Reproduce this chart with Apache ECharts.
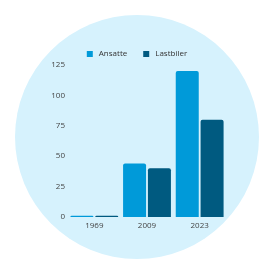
<!DOCTYPE html>
<html><head><meta charset="utf-8">
<script src="https://cdn.jsdelivr.net/npm/echarts@6/dist/echarts.min.js"></script>
<style>html,body{margin:0;padding:0;background:#fff}#c{width:274px;height:274px}</style>
</head><body><div id="c"></div>
<script>
const categories = ['1969', '2009', '2023'];
const ansatte = [1, 44, 120];
const lastbiler = [1, 40, 80];
const yTicks = [0, 25, 50, 75, 100, 125];

const chart = echarts.init(document.getElementById('c'), null, {renderer: 'canvas'});
chart.setOption({
  animation: false,
  graphic: [{type: 'circle', shape: {cx: 137, cy: 137, r: 122}, style: {fill: '#d6f2fd'}, z: -10, silent: true}],
  legend: {
    top: 45, left: 'center', itemWidth: 6, itemHeight: 6, itemGap: 16,
    icon: 'rect',
    textStyle: {fontFamily: 'Open Sans', fontSize: 8, color: '#333', padding: [0, 0, 0, 1]},
    data: ['Ansatte', 'Lastbiler']
  },
  grid: {left: 68, right: 48, top: 65, bottom: 57},
  xAxis: {
    type: 'category', data: categories,
    axisLine: {show: false}, axisTick: {show: false},
    axisLabel: {fontFamily: 'Open Sans', fontSize: 8, color: '#444', margin: 5}
  },
  yAxis: {
    type: 'value', min: yTicks[0], max: yTicks[yTicks.length - 1], interval: 25,
    splitLine: {show: false}, axisLine: {show: false}, axisTick: {show: false},
    axisLabel: {fontFamily: 'Open Sans', fontSize: 8, color: '#444', margin: 3}
  },
  series: [
    {name: 'Ansatte', type: 'bar', data: ansatte, barWidth: 23, barGap: '8%',
     itemStyle: {color: '#009ad9', borderRadius: [2, 2, 0, 0]}},
    {name: 'Lastbiler', type: 'bar', data: lastbiler, barWidth: 23,
     itemStyle: {color: '#005a80', borderRadius: [2, 2, 0, 0]}}
  ]
});
</script></body></html>
